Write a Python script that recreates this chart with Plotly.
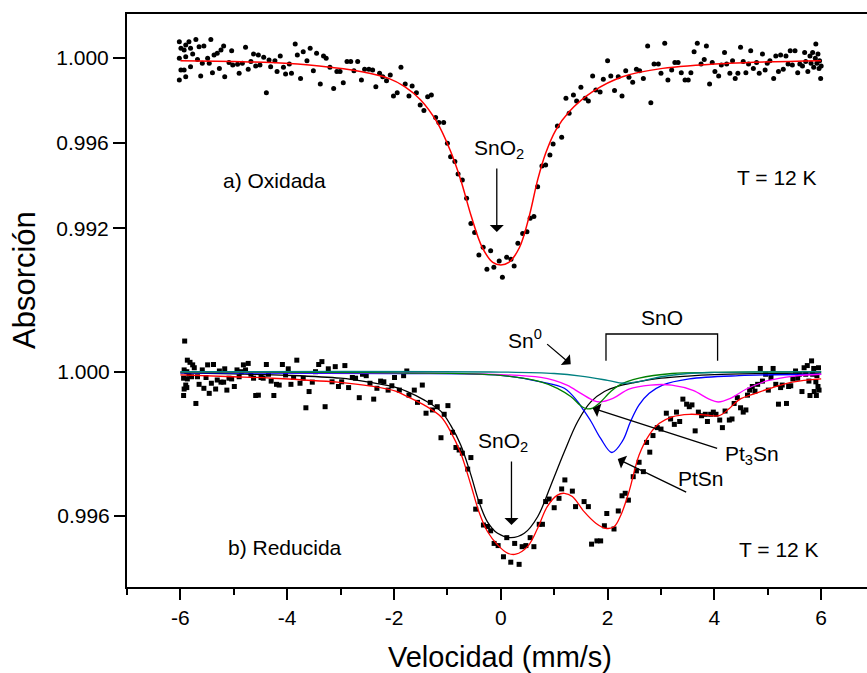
import plotly.graph_objects as go

# ---------------- a) Oxidada : measured points ----------------
vel_a = [-6.02, -5.90, -5.84, -5.71, -5.99, -5.93, -5.81, -5.65, -5.56, -5.43,
         -6.02, -5.90, -5.77, -5.68, -5.99, -5.93, -6.02, -5.90, -5.81, -5.62,
         -5.59, -5.49, -5.46, -5.40, -5.37, -5.31, -5.24, -5.19, -5.27, -5.17,
         -5.09, -5.04, -5.02, -4.93, -4.90, -4.84, -4.78, -4.73, -4.68, -4.63,
         -4.59, -4.54, -4.51, -4.44, -4.39, -4.34, -4.31, -4.23, -4.19, -4.13,
         -4.07, -4.03, -3.96, -3.92, -3.85, -3.81, -3.75, -3.70, -3.63, -3.57,
         -3.51, -3.45, -3.38, -3.32, -3.27, -3.20, -3.13, -3.07, -3.01, -2.95,
         -2.88, -2.81, -2.75, -2.68, -2.61, -2.55, -2.47, -2.40, -2.34, -2.27,
         -2.21, -2.14, -2.07, -2.01, -1.94, -1.87, -1.79, -1.72, -1.66, -1.58,
         -1.51, -1.44, -1.37, -1.30, -1.22, -1.16, -1.07, -1.00, -0.94, -0.86,
         -0.80, -0.72, -0.64, -0.56, -0.49, -0.41, -0.33, -0.26, -0.19, -0.13,
         -0.03, 0.03, 0.11, 0.19, 0.25, 0.32, 0.41, 0.49, 0.55, 0.62,
         0.69, 0.77, 0.84, 0.92, 0.98, 1.06, 1.14, 1.22, 1.28, 1.36,
         1.42, 1.50, 1.58, 1.64, 1.72, 1.78, 1.86, 1.92, 2.00, 2.06,
         2.13, 2.20, 2.27, 2.34, 2.40, 2.47, 2.54, 2.60, 2.67, 2.75,
         2.81, 2.87, 2.95, 3.00, 3.07, 3.13, 3.20, 3.26, 3.32, 3.38,
         3.45, 3.51, 3.56, 3.62, 3.68, 3.75, 3.81, 3.85, 3.91, 3.96,
         4.01, 4.08, 4.13, 4.19, 4.23, 4.29, 4.34, 4.39, 4.44, 4.49,
         4.54, 4.59, 4.64, 4.68, 4.73, 4.79, 4.84, 4.90, 4.95, 4.99,
         5.04, 5.11, 5.15, 5.20, 5.24, 5.29, 5.34, 5.38, 5.42, 5.46,
         5.51, 5.56, 5.60, 5.65, 5.69, 5.71, 5.75, 5.79, 5.81, 5.84,
         5.86, 5.89, 5.90, 5.92, 5.94, 5.96, 5.97, 5.99, 6.00]
abs_a = [1.00075, 1.00060, 1.00075, 1.00086, 1.00044, 1.00036, 1.00044, 1.00052, 1.00055, 1.00086,
         0.99997, 1.00005, 1.00017, 0.99992, 0.99942, 0.99942, 0.99895, 0.99911, 0.99958, 0.99914,
         0.99974, 0.99997, 0.99974, 0.99930, 1.00013, 1.00021, 1.00036, 1.00055, 0.99950, 0.99911,
         0.99977, 1.00033, 0.99966, 0.99969, 0.99927, 0.99974, 1.00049, 0.99946, 0.99982, 1.00017,
         0.99961, 1.00013, 0.99966, 1.00002, 0.99836, 0.99989, 0.99958, 0.99986, 0.99935, 1.00008,
         0.99955, 0.99924, 0.99971, 0.99927, 1.00064, 1.00013, 0.99903, 1.00028, 0.99986, 1.00044,
         0.99939, 1.00021, 0.99877, 1.00008, 0.99997, 0.99955, 0.99856, 0.99935, 0.99935, 0.99883,
         0.99982, 0.99982, 0.99939, 0.99982, 0.99895, 0.99946, 0.99946, 0.99942, 0.99864, 0.99927,
         0.99911, 0.99892, 0.99919, 0.99820, 0.99836, 0.99955, 0.99877, 0.99820, 0.99867, 0.99836,
         0.99778, 0.99752, 0.99817, 0.99825, 0.99720, 0.99696, 0.99696, 0.99599, 0.99536, 0.99513,
         0.99455, 0.99427, 0.99341, 0.99223, 0.99180, 0.99075, 0.99111, 0.99008, 0.99095, 0.99017,
         0.99047, 0.98970, 0.99064, 0.99055, 0.99023, 0.99130, 0.99176, 0.99184, 0.99247, 0.99255,
         0.99395, 0.99492, 0.99497, 0.99544, 0.99595, 0.99680, 0.99627, 0.99810, 0.99739, 0.99825,
         0.99797, 0.99861, 0.99810, 0.99797, 0.99914, 0.99849, 0.99839, 0.99899, 0.99986, 0.99914,
         0.99846, 0.99911, 0.99820, 0.99939, 0.99908, 0.99885, 0.99946, 0.99939, 0.99903, 1.00055,
         0.99789, 0.99971, 0.99971, 0.99927, 1.00068, 0.99895, 0.99942, 0.99978, 0.99978, 0.99930,
         0.99895, 0.99895, 0.99930, 1.00028, 1.00068, 0.99971, 0.99992, 1.00055, 0.99877, 0.99977,
         0.99935, 0.99914, 0.99966, 1.00024, 0.99971, 0.99927, 0.99986, 0.99903, 0.99927, 1.00049,
         0.99982, 0.99930, 0.99971, 1.00033, 0.99950, 0.99977, 0.99927, 1.00017, 0.99942, 0.99974,
         0.99986, 0.99903, 1.00008, 0.99935, 1.00013, 0.99946, 1.00008, 0.99971, 1.00033, 0.99966,
         1.00033, 0.99930, 0.99971, 0.99961, 1.00024, 0.99982, 0.99935, 1.00008, 0.99974, 1.00024,
         0.99955, 0.99997, 1.00064, 0.99974, 1.00017, 0.99950, 0.99986, 0.99903, 0.99961]

# a) fitted curve
fit_a_vel = [-6.0, -5.0, -4.3, -3.4, -2.6, -2.1, -1.8, -1.5, -1.2, -0.95, -0.75, -0.55,
             -0.35, -0.15, 0.0, 0.15, 0.35, 0.53, 0.69, 0.84, 1.03, 1.28, 1.72, 2.28,
             3.03, 4.28, 6.0]
fit_a_abs = [0.99986, 0.99982, 0.99977, 0.99961, 0.99934, 0.99903, 0.99864, 0.99802, 0.99700,
             0.99567, 0.99427, 0.99254, 0.99112, 0.99040, 0.99028, 0.99040, 0.99110, 0.99254,
             0.99427, 0.99552, 0.99661, 0.99747, 0.99841, 0.99911, 0.99950, 0.99974, 0.99986]

# ---------------- b) Reducida : measured points ----------------
vel_b = [-5.92, -5.87, -5.82, -5.77, -5.74, -5.93, -5.88, -5.84, -5.79, -5.94,
         -5.87, -5.90, -5.93, -5.88, -5.94, -5.71, -5.68, -5.65, -5.59, -5.56,
         -5.52, -5.49, -5.46, -5.42, -5.38, -5.34, -5.31, -5.27, -5.24, -5.19,
         -5.17, -5.13, -5.09, -5.04, -4.99, -4.94, -4.90, -4.86, -4.82, -4.78,
         -4.73, -4.68, -4.63, -4.59, -4.54, -4.49, -4.45, -4.39, -4.35, -4.30,
         -4.25, -4.20, -4.15, -4.09, -4.03, -3.98, -3.93, -3.88, -3.82, -3.76,
         -3.70, -3.65, -3.59, -3.53, -3.47, -3.41, -3.35, -3.29, -3.23, -3.16,
         -3.10, -3.04, -2.98, -2.92, -2.85, -2.78, -2.72, -2.65, -2.59, -2.52,
         -2.45, -2.38, -2.32, -2.25, -2.19, -2.11, -2.04, -1.99, -1.82, -1.76,
         -1.90, -1.72, -1.62, -1.56, -1.47, -1.40, -1.32, -1.28, -1.19, -1.06,
         -0.99, -1.12, -0.905, -0.84, -0.78, -0.72, -0.62, -0.56, -0.47, -0.39,
         -0.325, -0.25, -0.19, -0.125, -0.05, 0.05, 0.112, 0.187, 0.26, 0.343,
         0.40, 0.47, 0.55, 0.62, 0.72, 0.78, 0.84, 0.905, 1.00, 1.09,
         1.14, 1.20, 1.34, 1.40, 1.56, 1.64, 1.70, 1.80, 1.87, 1.94,
         1.985, 2.12, 2.20, 2.27, 2.33, 2.39, 2.48, 2.54, 2.59, 2.67,
         2.73, 2.79, 2.85, 2.93, 3.00, 3.10, 3.18, 3.25, 3.29, 3.35,
         3.41, 3.48, 3.53, 3.58, 3.64, 3.70, 3.76, 3.83, 3.87, 3.93,
         3.98, 4.03, 4.10, 4.15, 4.20, 4.28, 4.33, 4.37, 4.43, 4.49,
         4.54, 4.59, 4.62, 4.66, 4.71, 4.76, 4.81, 4.86, 4.90, 4.96,
         5.01, 5.06, 5.10, 5.15, 5.20, 5.24, 5.27, 5.35, 5.39, 5.43,
         5.47, 5.52, 5.56, 5.59, 5.64, 5.68, 5.71, 5.74, 5.77, 5.79,
         5.82, 5.84, 5.86, 5.87, 5.90, 5.91, 5.92, 5.94, 5.95, 5.96]
abs_b = [1.00085, 1.00032, 1.00026, 1.00019, 1.00011, 1.00005, 1.00000, 0.99993, 0.99986, 0.99982,
         0.99980, 0.99963, 0.99952, 0.99956, 0.99934, 0.99912, 0.99986, 0.99965, 1.00005, 0.99954,
         0.99984, 1.00019, 0.99940, 0.99968, 1.00020, 0.99952, 0.99977, 1.00002, 0.99971, 0.99971,
         1.00008, 0.99949, 0.99982, 0.99980, 0.99959, 1.00005, 0.99986, 1.00000, 1.00019, 1.00005,
         1.00023, 0.99993, 0.99982, 0.99934, 0.99935, 0.99984, 0.99982, 1.00020, 0.99993, 0.99974,
         0.99934, 0.99965, 0.99963, 1.00020, 0.99991, 1.00008, 0.99965, 0.99984, 1.00032, 0.99968,
         0.99982, 0.99900, 0.99945, 0.99971, 1.00000, 1.00020, 1.00028, 0.99903, 1.00008, 0.99972,
         1.00014, 0.99959, 0.99972, 1.00017, 0.99956, 0.99984, 0.99982, 0.99928, 0.99993, 0.99989,
         0.99968, 0.99924, 0.99954, 0.99974, 0.99972, 0.99949, 0.99961, 0.99984, 0.99989, 1.00002,
         0.99949, 0.99935, 0.99949, 0.99915, 0.99963, 0.99885, 0.99915, 0.99894, 0.99903, 0.99882,
         0.99906, 0.99817, 0.99832, 0.99790, 0.99783, 0.99774, 0.99730, 0.99762, 0.99619, 0.99640,
         0.99575, 0.99571, 0.99559, 0.99524, 0.99518, 0.99487, 0.99540, 0.99472, 0.99524, 0.99466,
         0.99515, 0.99518, 0.99540, 0.99515, 0.99577, 0.99577, 0.99640, 0.99647, 0.99623, 0.99649,
         0.99675, 0.99700, 0.99669, 0.99626, 0.99640, 0.99626, 0.99522, 0.99531, 0.99531, 0.99573,
         0.99607, 0.99564, 0.99614, 0.99656, 0.99663, 0.99644, 0.99709, 0.99725, 0.99749, 0.99723,
         0.99804, 0.99777, 0.99823, 0.99845, 0.99841, 0.99885, 0.99869, 0.99854, 0.99888, 0.99862,
         0.99924, 0.99910, 0.99903, 0.99908, 0.99836, 0.99888, 0.99878, 0.99882, 0.99862, 0.99882,
         0.99888, 0.99882, 0.99866, 0.99845, 0.99891, 0.99866, 0.99869, 0.99912, 0.99928, 0.99900,
         0.99888, 0.99894, 0.99935, 0.99949, 0.99959, 0.99946, 0.99965, 1.00009, 0.99974, 0.99993,
         0.99949, 0.99984, 1.00009, 0.99965, 0.99910, 0.99956, 0.99963, 0.99912, 0.99959, 0.99961,
         0.99980, 1.00002, 0.99982, 0.99993, 0.99945, 1.00011, 0.99993, 1.00017, 0.99974, 0.99934,
         1.00030, 0.99993, 1.00009, 0.99945, 0.99972, 0.99934, 0.99989, 0.99959, 1.00011, 0.99949]

# b) total fit
fit_b_vel = [-6.0, -5.0, -4.3, -3.06, -2.43, -1.97, -1.75, -1.44, -1.12, -0.94, -0.75, -0.56,
             -0.41, -0.25, -0.06, 0.125, 0.28, 0.5, 0.69, 0.87, 1.06, 1.19, 1.34, 1.56,
             1.78, 1.96, 2.12, 2.25, 2.40, 2.59, 2.78, 2.97, 3.21, 3.53, 3.84, 4.09,
             4.28, 4.46, 4.77, 5.09, 5.46, 6.0]
fit_b_abs = [0.99991, 0.99986, 0.99982, 0.99971, 0.99960, 0.99946, 0.99931, 0.99908, 0.99875,
             0.99834, 0.99774, 0.99686, 0.99612, 0.99557, 0.99520, 0.99497, 0.99494, 0.99515,
             0.99566, 0.99626, 0.99658, 0.99663, 0.99654, 0.99612, 0.99580, 0.99566, 0.99570,
             0.99603, 0.99667, 0.99769, 0.99825, 0.99857, 0.99875, 0.99882, 0.99880, 0.99878,
             0.99898, 0.99922, 0.99940, 0.99956, 0.99971, 0.99980]

# b) components
sno2_vel = [-6, -5, -4, -3, -2.5, -2, -1.75, -1.44, -1.12, -0.94, -0.75, -0.56, -0.41, -0.25,
            -0.06, 0.19, 0.44, 0.69, 0.94, 1.19, 1.44, 1.69, 1.94, 2.2, 2.5, 3, 3.5, 4, 5, 6]
sno2_abs = [0.99997, 0.99994, 0.99990, 0.99982, 0.99972, 0.99958, 0.99945, 0.99922, 0.99890,
            0.99852, 0.99797, 0.99714, 0.99640, 0.99584, 0.99552, 0.99540, 0.99552, 0.99598,
            0.99686, 0.99778, 0.99862, 0.99917, 0.99945, 0.99960, 0.99970, 0.99982, 0.99988,
            0.99992, 0.99995, 0.99997]

ptsn_vel = [-6, -2, 0, 0.75, 1.19, 1.44, 1.53, 1.69, 1.87, 2.08, 2.28, 2.43, 2.59, 2.78,
            3.03, 3.53, 4.46, 6]
ptsn_abs = [0.99997, 0.99995, 0.99990, 0.99972, 0.99954, 0.99917, 0.99898, 0.99862, 0.99815,
            0.99776, 0.99808, 0.99862, 0.99908, 0.99940, 0.99963, 0.99980, 0.99989, 0.99993]

sno_vel = [-6, -2, 0, 0.75, 1.0, 1.25, 1.5, 1.75, 1.85, 2.1, 2.4, 2.8, 3.2, 3.6, 3.9, 4.07,
           4.3, 4.6, 5.0, 5.5, 6]
sno_abs = [0.99999, 0.99997, 0.99992, 0.99984, 0.99976, 0.99962, 0.99940, 0.99919, 0.99916,
           0.99926, 0.99952, 0.99963, 0.99963, 0.99948, 0.99924, 0.99916, 0.99926, 0.99952,
           0.99975, 0.99988, 0.99993]

pt3sn_vel = [-6, -2, 0, 0.75, 1.06, 1.31, 1.53, 1.62, 1.72, 1.84, 2.06, 2.22, 2.59, 3.21, 4, 6]
pt3sn_abs = [0.99999, 0.99997, 0.99990, 0.99972, 0.99954, 0.99931, 0.99902, 0.99897, 0.99899,
             0.99912, 0.99945, 0.99963, 0.99982, 0.99995, 0.99998, 1.00000]

sn0_vel = [-6, 0, 1, 1.5, 2.0, 2.3, 2.6, 3.0, 3.5, 4, 6]
sn0_abs = [1.00000, 0.99999, 0.99995, 0.99988, 0.99976, 0.99968, 0.99973, 0.99986, 0.99995,
           0.99998, 1.00000]

x_ticks = [-6, -4, -2, 0, 2, 4, 6]
x_ticktext = ["-6", "-4", "-2", "0", "2", "4", "6"]
ya_ticks = [1.000, 0.996, 0.992]
ya_ticktext = ["1.000", "0.996", "0.992"]
yb_ticks = [1.000, 0.996]
yb_ticktext = ["1.000", "0.996"]

FONT = "Liberation Sans, Arial, sans-serif"

fig = go.Figure()

# panel a
fig.add_trace(go.Scatter(x=vel_a, y=abs_a, mode="markers", yaxis="y",
                         marker=dict(symbol="circle", size=5, color="black"),
                         showlegend=False))
fig.add_trace(go.Scatter(x=fit_a_vel, y=fit_a_abs, mode="lines", yaxis="y",
                         line=dict(color="#ff0000", width=1.5, shape="spline"),
                         showlegend=False))

# panel b
fig.add_trace(go.Scatter(x=vel_b, y=abs_b, mode="markers", yaxis="y2",
                         marker=dict(symbol="square", size=5, color="black"),
                         showlegend=False))
for vx, vy, col in [(sno2_vel, sno2_abs, "#000000"),
                    (ptsn_vel, ptsn_abs, "#0000ff"),
                    (sno_vel, sno_abs, "#ff00ff"),
                    (pt3sn_vel, pt3sn_abs, "#008000"),
                    (sn0_vel, sn0_abs, "#008080"),
                    (fit_b_vel, fit_b_abs, "#ff0000")]:
    fig.add_trace(go.Scatter(x=vx, y=vy, mode="lines", yaxis="y2",
                             line=dict(color=col, width=1.3, shape="spline"),
                             showlegend=False))

ann = []
def txt(x, y, t, yref="y", xanchor="center", size=21):
    ann.append(dict(x=x, y=y, xref="x", yref=yref, text=t, showarrow=False,
                    xanchor=xanchor, yanchor="middle",
                    font=dict(size=size, color="black", family=FONT)))

def arrow(x0, y0, x1, y1, yref="y"):
    ann.append(dict(x=x1, y=y1, ax=x0, ay=y0, xref="x", yref=yref, axref="x",
                    ayref=yref, text="", showarrow=True, arrowhead=1, arrowsize=1.8,
                    arrowwidth=1.3, arrowcolor="black"))

# panel a annotations
txt(-5.24, 0.99426, "a) Oxidada", xanchor="left")
txt(5.95, 0.99440, "T = 12 K", xanchor="right")
txt(-0.04, 0.99570, "SnO<sub>2</sub>")
arrow(-0.075, 0.99487, -0.075, 0.99183)

# panel b annotations
txt(-5.15, 0.99514, "b) Reducida", yref="y2", xanchor="left")
txt(6.0, 0.99508, "T = 12 K", yref="y2", xanchor="right")
txt(0.04, 0.99805, "SnO<sub>2</sub>", yref="y2")
arrow(0.20, 0.99755, 0.20, 0.99575, yref="y2")
txt(0.45, 1.00090, "Sn<sup>0</sup>", yref="y2")
arrow(0.84, 1.00080, 1.31, 1.00021, yref="y2")
txt(3.01, 1.00149, "SnO", yref="y2")
txt(4.70, 0.99770, "Pt<sub>3</sub>Sn", yref="y2")
arrow(4.08, 0.99786, 1.72, 0.99899, yref="y2")
txt(3.75, 0.99703, "PtSn", yref="y2")
arrow(3.50, 0.99664, 2.19, 0.99758, yref="y2")

# axis titles
ann.append(dict(x=(24 - 127) / 740, y=(587 - 280) / 573, xref="paper", yref="paper",
                text="Absorción", textangle=-90, showarrow=False,
                xanchor="center", yanchor="middle",
                font=dict(size=31, color="black", family=FONT)))
ann.append(dict(x=(500 - 127) / 740, y=(587 - 657) / 573, xref="paper", yref="paper",
                text="Velocidad (mm/s)", showarrow=False,
                xanchor="center", yanchor="middle",
                font=dict(size=29, color="black", family=FONT)))

shapes = [dict(type="path", xref="x", yref="y2",
               path="M 1.97 1.000305 L 1.97 1.001045 L 4.06 1.001045 L 4.06 1.000305",
               line=dict(color="black", width=1.3))]

fig.update_layout(
    width=867, height=673,
    margin=dict(l=127, r=0, t=14, b=86, autoexpand=False),
    paper_bgcolor="white", plot_bgcolor="white",
    font=dict(family=FONT, size=21, color="black"),
    annotations=ann, shapes=shapes,
    xaxis=dict(range=[-7, 6.858], tickmode="array", tickvals=x_ticks, ticktext=x_ticktext,
               ticks="outside", ticklen=11, tickwidth=2, tickcolor="black",
               showline=True, linewidth=2, linecolor="black", mirror=True,
               showgrid=False, zeroline=False, automargin=False,
               tickfont=dict(size=21, family=FONT, color="black"),
               minor=dict(tickmode="array", tickvals=[-7, -5, -3, -1, 1, 3, 5],
                          ticks="outside", ticklen=6, tickwidth=2, tickcolor="black",
                          showgrid=False)),
    yaxis=dict(range=[0.97518, 1.00205], tickmode="array", tickvals=ya_ticks,
               ticktext=ya_ticktext, ticks="outside", ticklen=12, tickwidth=2,
               tickcolor="black", showline=True, linewidth=2, linecolor="black",
               showgrid=False, zeroline=False, automargin=False,
               tickfont=dict(size=21, family=FONT, color="black")),
    yaxis2=dict(range=[0.994032, 1.009916], overlaying="y", side="left", anchor="x",
                tickmode="array", tickvals=yb_ticks, ticktext=yb_ticktext,
                ticks="outside", ticklen=12, tickwidth=2, tickcolor="black",
                showline=False, showgrid=False, zeroline=False, automargin=False,
                tickfont=dict(size=21, family=FONT, color="black")),
)

fig.write_html("out.html", config={"displayModeBar": False},
               post_script="document.body.style.margin='0px';"
                           "document.body.style.overflow='hidden';")
